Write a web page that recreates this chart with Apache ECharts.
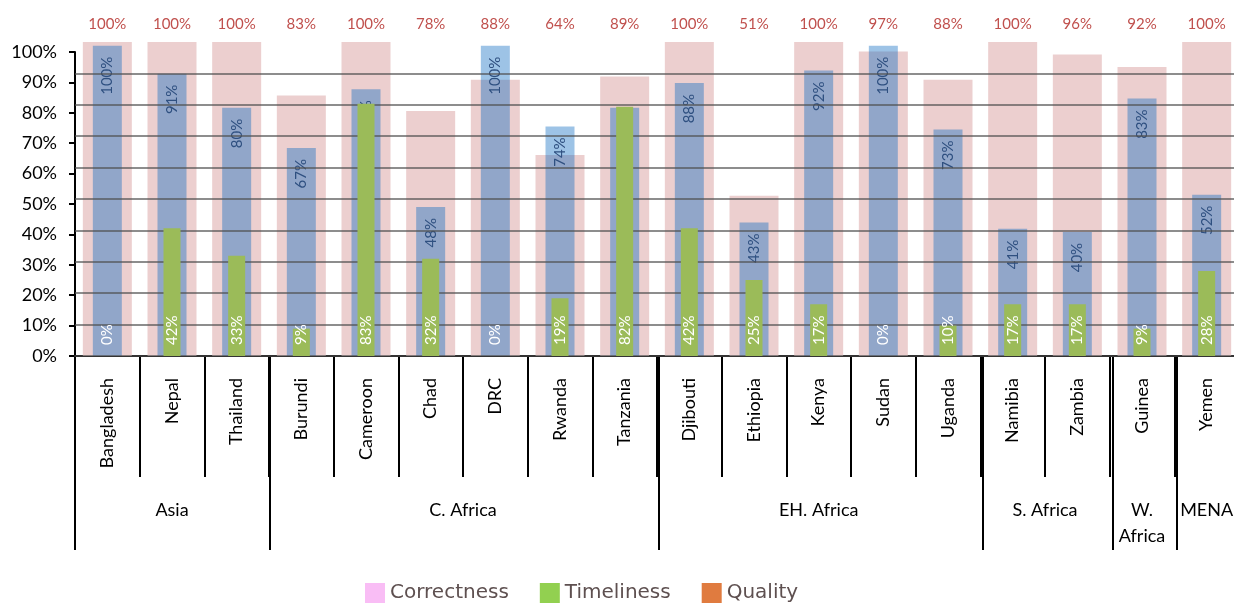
<!DOCTYPE html>
<html>
<head>
<meta charset="utf-8">
<script src="https://cdn.jsdelivr.net/npm/echarts@6/dist/echarts.min.js"></script>
<style>
html,body{margin:0;padding:0;background:#fff;overflow:hidden;}
#chart{width:1242px;height:603px;}
</style>
</head>
<body>
<div id="chart"></div>
<script>
// ---- data ----
const countries = ['Bangladesh','Nepal','Thailand','Burundi','Cameroon','Chad','DRC','Rwanda','Tanzania','Djibouti','Ethiopia','Kenya','Sudan','Uganda','Namibia','Zambia','Guinea','Yemen'];
const correctness = [100,91,80,67,86,48,100,74,80,88,43,92,100,73,41,40,83,52];
const timeliness  = [0,42,33,9,83,32,0,19,82,42,25,17,0,10,17,17,9,28];
const quality     = [100,100,100,83,100,78,88,64,89,100,51,100,97,88,100,96,92,100];
const groupNames  = ['Asia','C. Africa','EH. Africa','S. Africa','W.\nAfrica','MENA'];
const groupCounts = [3,6,5,2,1,1];
const yTicks = [0,10,20,30,40,50,60,70,80,90,100];

// ---- build half-category point axis (labels at group centres, lines at boundaries) ----
const nPts = countries.length * 2 + 1;
const groupAxisData = new Array(nPts).fill('');
const boundaryIdx = new Set([0]);
let start = 0;
groupNames.forEach((g, k) => {
  groupAxisData[2 * start + groupCounts[k]] = g;
  start += groupCounts[k];
  boundaryIdx.add(2 * start);
});

const FONT = 'Lato, "Noto Sans", sans-serif';
const SEP = { color: '#000', width: 2 };
const NOLINE = { show: false, onZero: false };
const chart = echarts.init(document.getElementById('chart'));
const option = {
  animation: false,
  textStyle: { fontFamily: FONT },
  grid: [
    { left: 75, top: 52, right: 0, height: 304, containLabel: false },  // plot
    { left: 75, top: 356, right: 0, height: 194, containLabel: false }  // region separators
  ],
  legend: {
    left: 360, top: 578,
    itemWidth: 20, itemHeight: 20, itemGap: 31,
    selectedMode: false,
    textStyle: { fontSize: 20, color: '#5E5050', fontFamily: '"DejaVu Sans", sans-serif' },
    data: [
      { name: 'Correctness', icon: 'rect', itemStyle: { color: '#F9BDF5' } },
      { name: 'Timeliness', icon: 'rect', itemStyle: { color: '#92D050' } },
      { name: 'Quality', icon: 'rect', itemStyle: { color: '#E07B3F' } }
    ]
  },
  xAxis: [
    { // 0: country axis, long ticks as country separators
      type: 'category', data: countries, position: 'bottom', gridIndex: 0,
      axisLine: { lineStyle: { color: '#000', width: 2 } },
      axisTick: { show: true, interval: 0, length: 121, lineStyle: SEP },
      axisLabel: { rotate: 90, margin: 22, fontSize: 18, color: '#000', interval: 0 }
    },
    { // 1: region group labels
      type: 'category', data: groupAxisData, position: 'bottom', gridIndex: 0,
      boundaryGap: false,
      axisLine: NOLINE,
      axisTick: { show: false },
      axisLabel: { interval: 0, margin: 141, fontSize: 18, color: '#000', lineHeight: 26 }
    },
    { // 2: top axis with quality labels
      type: 'category', data: countries, position: 'top', offset: 10, z: 3, gridIndex: 0,
      axisLine: { show: true, lineStyle: { color: 'rgba(80,80,80,0.65)', width: 2 } },
      axisTick: { show: false },
      axisLabel: { interval: 0, margin: 10, fontSize: 15, color: '#C0504D',
        formatter: (v, i) => quality[i] + '%' }
    },
    { // 3: hidden axis for timeliness bars
      type: 'category', data: countries, show: false, gridIndex: 0
    },
    { // 4: region separator lines
      type: 'category', data: groupAxisData, gridIndex: 1, boundaryGap: false, position: 'top',
      axisLine: NOLINE, axisTick: { show: false }, axisLabel: { show: false },
      splitLine: { show: true, interval: (i) => boundaryIdx.has(i), lineStyle: SEP }
    }
  ],
  yAxis: [
    { // 0: labelled axis (timeliness scale)
      type: 'value', min: 0, max: 100, interval: 10, gridIndex: 0,
      axisLine: { show: true, lineStyle: { color: '#000', width: 2 } },
      axisTick: { show: true, length: 6, lineStyle: { color: '#000', width: 2 } },
      axisLabel: { margin: 18, fontSize: 18, color: '#000',
        formatter: (v) => (yTicks.indexOf(v) >= 0 ? v + '%' : '') },
      splitLine: { show: false }
    },
    { // 1: quality scale with gridlines
      type: 'value', min: 0, max: 100 * 304 / 314, interval: 10, z: 3, gridIndex: 0,
      axisLine: NOLINE, axisTick: { show: false }, axisLabel: { show: false },
      splitLine: { show: true, showMaxLine: false, showMinLine: false,
        lineStyle: { color: 'rgba(80,80,80,0.65)', width: 2 } }
    },
    { // 2: correctness scale
      type: 'value', min: 0, max: 100 * 304 / 310.3, show: false, gridIndex: 0,
      splitLine: { show: false }
    },
    { type: 'category', data: [''], gridIndex: 1, show: false, splitLine: { show: false } }
  ],
  series: [
    {
      name: 'Quality', type: 'bar', xAxisIndex: 2, yAxisIndex: 1, z: 1,
      barWidth: 49, clip: false,
      itemStyle: { color: '#ECCFCF' },
      data: quality
    },
    {
      name: 'Correctness', type: 'bar', xAxisIndex: 0, yAxisIndex: 2, z: 2,
      barWidth: 29, clip: false,
      itemStyle: { color: 'rgba(10,105,192,0.4)' },
      label: {
        show: true, position: 'insideTop', distance: 11, rotate: 90,
        align: 'right', verticalAlign: 'middle',
        fontSize: 15, color: '#2F5080', formatter: (p) => p.value + '%'
      },
      data: correctness
    },
    {
      name: 'Timeliness', type: 'bar', xAxisIndex: 3, yAxisIndex: 0, z: 4,
      barWidth: 17,
      itemStyle: { color: '#9BBB59' },
      label: {
        show: true, position: 'insideBottom', distance: 11, rotate: 90,
        align: 'left', verticalAlign: 'middle',
        fontSize: 15, color: '#fff', formatter: (p) => p.value + '%'
      },
      data: timeliness
    }
  ]
};
chart.setOption(option);
</script>
</body>
</html>
